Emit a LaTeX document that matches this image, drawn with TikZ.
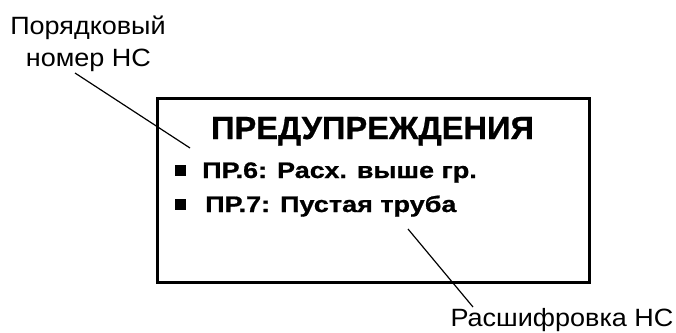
\documentclass[tikz,border=0pt]{standalone}
\usepackage{fontspec}
\setmainfont{Liberation Sans}
\newfontfamily\headfont[FakeStretch=1.02,FakeBold=0.8]{Liberation Sans Bold}
\newfontfamily\itemfont[FakeStretch=1.2,FakeBold=0.8]{Liberation Sans Bold}
\newfontfamily\notefont[FakeStretch=1.08]{Liberation Sans}
\usetikzlibrary{positioning}

\begin{document}
\begin{tikzpicture}[
  x=1pt, y=-1pt,
  screen/.style={draw=black, line width=3pt, inner sep=0pt},
  title/.style={anchor=base, inner sep=0pt, font=\headfont\fontsize{32}{36}\selectfont},
  item/.style={anchor=base west, inner sep=0pt, font=\itemfont\fontsize{22.5}{26}\selectfont},
  bullet/.style={fill=black, minimum size=11pt, inner sep=0pt},
  callout/.style={anchor=base, inner sep=0pt, font=\notefont\fontsize{25}{30}\selectfont},
  leader/.style={draw=black, line width=1.2pt}
]
  \useasboundingbox (0,0) rectangle (676,332);

  % Display frame
  \draw[screen] (157,98) rectangle (589,282);
  \node[title] (head) at (372.5,139) {ПРЕДУПРЕЖДЕНИЯ};

  % Warning lines
  \node[bullet] (b1) at (180.5,170.5) {};
  \node[item] (w1) at (202,178) {ПР.6: Расх. выше гр.};
  \node[bullet] (b2) at (180.5,204.5) {};
  \node[item] (w2) at (205,212) {ПР.7: Пустая труба};

  % Callouts
  \node[callout] (num1) at (88,34) {Порядковый};
  \node[callout] (num2) at (88.5,66) {номер НС};
  \node[callout] (desc) at (562,326) {Расшифровка НС};

  % Leader lines
  \coordinate (n1) at (75,73);
  \coordinate (n2) at (190,148);
  \coordinate (d1) at (408,229);
  \coordinate (d2) at (473,307);
  \draw[leader] (n1) -- (n2);
  \draw[leader] (d1) -- (d2);
\end{tikzpicture}
\end{document}
